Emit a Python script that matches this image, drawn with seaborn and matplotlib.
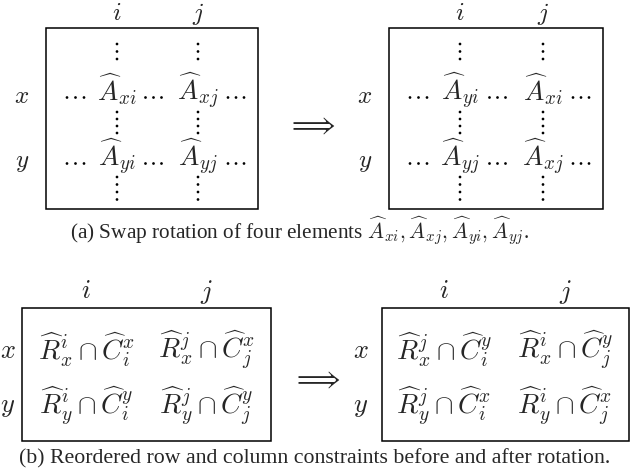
import numpy as np
import pandas as pd
import seaborn as sns
import matplotlib
matplotlib.use("Agg")
import matplotlib.pyplot as plt
from matplotlib.patches import Rectangle

# labels of the two small matrices
col_labels = ["i", "j"]
row_labels = ["x", "y"]

# (a) swap rotation: entries before / after
before_a = [["xi", "xj"], ["yi", "yj"]]
after_a = [["yi", "xi"], ["yj", "xj"]]

# (b) row / column constraints: (row sup, col sup) per cell
before_b = [[("i", "x"), ("j", "x")], [("i", "y"), ("j", "y")]]
after_b = [[("j", "y"), ("i", "y")], [("j", "x"), ("i", "x")]]

cap_a = r"(a) Swap rotation of four elements $\widehat{A}_{xi}, \widehat{A}_{xj}, \widehat{A}_{yi}, \widehat{A}_{yj}$."
cap_b = "(b) Reordered row and column constraints before and after rotation."

sns.set_theme(style="white")
plt.rcParams["font.family"] = ["Liberation Serif", "DejaVu Serif"]
plt.rcParams["mathtext.fontset"] = "cm"

fig = plt.figure(figsize=(6.34, 4.75), dpi=100)
ax = fig.add_axes([0, 0, 1, 1])
ax.set_xlim(0, 634)
ax.set_ylim(475, 0)
ax.axis("off")


def box(x0, x1, y0, y1):
    ax.add_patch(Rectangle((x0, y0), x1 - x0, y1 - y0, fill=False,
                           edgecolor="black", linewidth=1.1))


def dots_panel(x0, x1, cols, rows, entries, lab_x):
    box(x0, x1, 28, 209)
    for c, lab in zip(cols, col_labels):
        ax.text(c, 14, f"${lab}$", ha="center", va="center", fontsize=18)
    for r, lab in zip(rows, row_labels):
        ax.text(lab_x, r, f"${lab}$", ha="center", va="center", fontsize=18)
    pts = []
    for r, row in zip(rows, entries):
        for c, e in zip(cols, row):
            ax.text(c, r + 3, r"$\widehat{A}_{%s}$" % e, ha="center",
                    va="baseline", fontsize=19.5)
        k = np.arange(3)
        xs = np.r_[cols[0] - 33 - k[::-1] * 8.5,
                   (cols[0] + cols[1]) / 2 - 4 + (k - 1) * 8,
                   cols[1] + 30 + k * 8]
        pts += [(x, r + 0.5) for x in xs]
    # vertical dots
    ys = np.r_[np.arange(3) * 7.5 + 44, np.arange(4) * 7 + 112, np.arange(4) * 7.5 + 177]
    pts += [(c, y) for c in cols for y in ys]
    pts = pd.DataFrame(pts, columns=["px", "py"])
    sns.scatterplot(data=pts, x="px", y="py", ax=ax, s=3.8, color="black",
                    edgecolor="none", legend=False)


def cons_panel(x0, x1, cols, rows, entries, lab_x):
    box(x0, x1, 308, 441)
    for c, lab in zip(cols, col_labels):
        ax.text(c, 292, f"${lab}$", ha="center", va="center", fontsize=19)
    for r, lab in zip(rows, row_labels):
        ax.text(lab_x, r, f"${lab}$", ha="center", va="center", fontsize=19)
    for r, row in zip(rows, entries):
        for c, (rs, cs) in zip(cols, row):
            rl = row_labels[rows.index(r)]
            cl = col_labels[cols.index(c)]
            s = r"$\widehat{R}_{%s}^{%s}\cap\widehat{C}_{%s}^{%s}$" % (rl, rs, cl, cs)
            ax.text(c, r - 2, s, ha="center", va="center", fontsize=20)


dots_panel(46, 258, [117, 198], [97, 163], before_a, 22)
dots_panel(389, 603, [460, 543], [97, 163], after_a, 365)
ax.text(312, 126, r"$\Longrightarrow$", ha="center", va="center", fontsize=20)
ax.text(300, 238, cap_a, ha="center", va="baseline", fontsize=15.3)

cons_panel(22, 271, [86, 206], [352, 408], before_b, 8)
cons_panel(382, 629, [444, 565], [352, 408], after_b, 361)
ax.text(317, 380, r"$\Longrightarrow$", ha="center", va="center", fontsize=20)
ax.text(314.5, 463, cap_b, ha="center", va="baseline", fontsize=15.7)

fig.savefig("out.png", dpi=100)
